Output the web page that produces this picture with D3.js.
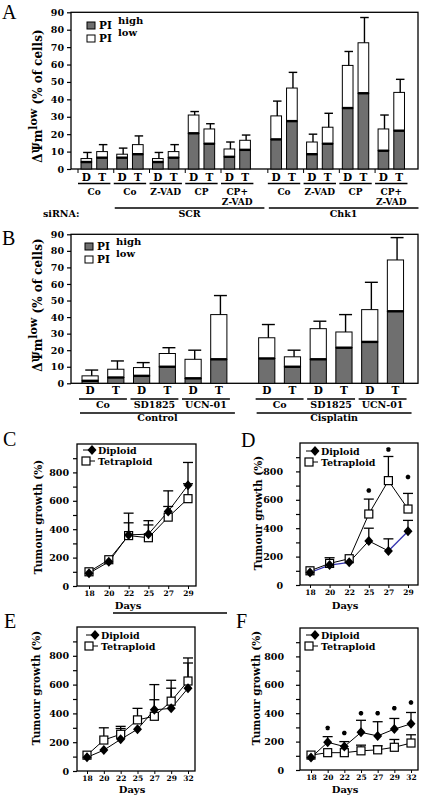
<!DOCTYPE html>
<html><head><meta charset="utf-8">
<script src="https://cdn.jsdelivr.net/npm/d3@7"></script>
<style>body{margin:0;background:#fff}</style>
</head><body><svg id="c" width="424" height="797"></svg>
<script>
// ---------- Panel A data (ΔΨm low, % of cells) ----------
const aGroups = ["Co","Co","Z-VAD","CP","CP+\nZ-VAD","Co","Z-VAD","CP","CP+\nZ-VAD"];
const aHighD = [4, 6.5, 4, 20.5, 7, 17, 8.5, 35, 10.5];
const aLowD  = [2, 2, 2, 10.5, 4.5, 13.5, 7, 24.5, 12.5];
const aSdD   = [3.5, 3.5, 3.5, 2, 4, 8.5, 4.5, 8, 8];
const aHighT = [6.5, 8.5, 6.5, 14.5, 11, 27.5, 14.5, 43.5, 22];
const aLowT  = [3.5, 5.5, 3.5, 8.5, 5.5, 19, 9.5, 29, 22];
const aSdT   = [4, 5, 4, 3, 3, 9, 8, 14.5, 7.5];
const aSets  = [{label:"SCR", from:1, to:4}, {label:"Chk1", from:5, to:8}];

// ---------- Panel B data ----------
const bGroups = ["Co","SD1825","UCN-01","Co","SD1825","UCN-01"];
const bHighD = [1.5, 4.5, 3, 15, 14.5, 25];
const bLowD  = [3, 5, 11.5, 12.5, 18.5, 19.5];
const bSdD   = [3.5, 3, 5.5, 8, 4.5, 16.5];
const bHighT = [3.5, 10, 14.5, 10, 21.5, 43.5];
const bLowT  = [5, 8, 27, 6, 9.5, 31];
const bSdT   = [5, 3.5, 11.5, 4, 10.5, 13.5];
const bSets  = [{label:"Control", from:0, to:2}, {label:"Cisplatin", from:3, to:5}];
const barTicks = [0,10,20,30,40,50,60,70,80,90];

// ---------- Panels C–F data (tumour growth %) ----------
const days6 = [18, 20, 22, 25, 27, 29];
const days7 = [18, 20, 22, 25, 27, 29, 32];
const cDip = [90, 170, 360, 365, 525, 710];
const cDipSd = [0, 0, 85, 95, 145, 160];
const cTet = [100, 185, 355, 340, 485, 615];
const cTetSd = [0, 0, 158, 90, 75, 105];
const dDip = [88, 140, 160, 310, 240, 378];
const dDipSd = [0, 0, 0, 90, 85, 77];
const dTet = [100, 152, 185, 500, 735, 535];
const dTetSd = [0, 40, 0, 105, 170, 110];
const dStars = [null, null, null, 665, 955, 760];
const eDip = [95, 145, 220, 290, 425, 435, 575];
const eDipSd = [0, 0, 75, 0, 175, 140, 175];
const eTet = [110, 215, 255, 355, 380, 485, 625];
const eTetSd = [0, 85, 55, 80, 115, 145, 160];
const fDip = [88, 195, 165, 265, 240, 288, 325];
const fDipSd = [0, 40, 35, 85, 100, 75, 80];
const fTet = [105, 122, 122, 135, 142, 160, 190];
const fTetSd = [0, 0, 0, 40, 28, 55, 58];
const fStars = [null, 295, 260, 400, 400, 435, 475];
const growthTicks = [0,100,200,300,400,500,600,700,800,900];

const FONT = "'DejaVu Serif', serif";
const svg = d3.select("#c");
svg.append("rect").attr("width",424).attr("height",797).attr("fill","#fff");

function text(g, x, y, s, size, anchor) {
  return g.append("text").attr("x", x).attr("y", y).text(s)
    .attr("font-family", FONT).attr("font-weight","bold").attr("font-size", size)
    .attr("text-anchor", anchor || "middle").attr("fill","#000");
}
function letter(s, x, y) {
  svg.append("text").attr("x", x).attr("y", y).text(s)
    .attr("font-family","'Liberation Serif', serif").attr("font-size", 20).attr("fill","#000");
}
function line(g, x1, y1, x2, y2, w) {
  g.append("line").attr("x1",x1).attr("y1",y1).attr("x2",x2).attr("y2",y2)
    .attr("stroke","#000").attr("stroke-width", w || 1);
}

// ---------------- bar panels ----------------
function barPanel(o) {
  const g = svg.append("g");
  const y = d3.scaleLinear().domain([0, 90]).range([o.bottom, o.top]);
  const slot = i => i + (i >= o.splitAt ? o.gap : 0);
  const xp = d3.scaleLinear().domain([0, 1]).range([o.firstLeft, o.firstLeft + o.pairStep]);
  const inner = d3.scaleBand().domain(["D","T"]).range([0, o.pairW]).paddingInner(o.innerPad).paddingOuter(0);
  const bw = inner.bandwidth();
  const pairL = i => xp(slot(i));
  const pairR = i => xp(slot(i)) + o.pairW;

  g.append("rect").attr("x", o.left).attr("y", o.top).attr("width", o.right - o.left)
    .attr("height", o.bottom - o.top).attr("fill","none").attr("stroke","#000").attr("stroke-width",1.3);

  const ya = g.append("g").attr("transform", `translate(${o.left},0)`)
    .call(d3.axisLeft(y).tickValues(barTicks).tickSize(4).tickPadding(3));
  ya.select(".domain").remove();
  ya.attr("font-family", FONT).attr("font-weight","bold").attr("font-size", 9.5);
  ya.selectAll("line").attr("stroke-width",1.2);

  const rows = [];
  o.groups.forEach((gn, i) => ["D","T"].forEach(k => rows.push({
    i, k, high: o.high[k][i], low: o.low[k][i], sd: o.sd[k][i], x: pairL(i) + inner(k)
  })));

  rows.forEach(d => {
    const tot = d.high + d.low;
    g.append("rect").attr("x", d.x).attr("y", y(tot)).attr("width", bw).attr("height", y(d.high) - y(tot))
      .attr("fill","#fff").attr("stroke","#000").attr("stroke-width",1);
    g.append("rect").attr("x", d.x).attr("y", y(d.high)).attr("width", bw).attr("height", y(0) - y(d.high))
      .attr("fill","#6f6f6f").attr("stroke","#000").attr("stroke-width",1);
    line(g, d.x, y(d.high), d.x + bw, y(d.high), 2.4);
    const ex = d.x + bw * 0.6;
    line(g, ex, y(tot), ex, y(tot + d.sd), 1.4);
    line(g, ex - bw * 0.4, y(tot + d.sd), ex + bw * 0.4, y(tot + d.sd), 1.4);
    text(g, d.x + bw / 2, o.dtY, d.k, 10.5);
  });

  o.groups.forEach((gn, i) => {
    line(g, pairL(i) - 3, o.ulY, pairR(i) + 3, o.ulY, 1.3);
    if (o.tickMarks) line(g, pairL(i) - 3, o.bottom, pairL(i) - 3, o.bottom + 4, 1);
    gn.split("\n").forEach((s, j) => text(g, (pairL(i) + pairR(i)) / 2, o.grpY + j * o.lineGap, s, o.grpSize));
  });

  o.sets.forEach(s => {
    const x1 = pairL(s.from) + o.setPad[0], x2 = pairR(s.to) + o.setPad[1];
    line(g, x1, o.setLineY, x2, o.setLineY, 1.3);
    text(g, (x1 + x2) / 2, o.setTextY, s.label, 9.5);
  });

  // legend
  const L = o.legend;
  g.append("rect").attr("x", L.x).attr("y", L.y).attr("width", 8).attr("height", 7)
    .attr("fill","#6f6f6f").attr("stroke","#000");
  g.append("rect").attr("x", L.x).attr("y", L.y + 13).attr("width", 8).attr("height", 7)
    .attr("fill","#fff").attr("stroke","#000");
  text(g, L.x + 12, L.y + 7, "PI", 10.5, "start");
  text(g, L.x + 12, L.y + 20, "PI", 10.5, "start");
  text(g, L.x + 31, L.y + 2, "high", 10, "start");
  text(g, L.x + 31, L.y + 14, "low", 10, "start");

  // y title
  const t = g.append("text").attr("transform", `translate(${o.titleX},${o.titleY}) rotate(-90)`)
    .attr("text-anchor","middle").attr("font-family", FONT).attr("font-weight","bold").attr("font-size", 12);
  t.append("tspan").text("ΔΨm");
  t.append("tspan").attr("dy", -5).attr("font-size", 11).text("low");
  t.append("tspan").attr("dy", 5).text(" (% of cells)");
}

barPanel({
  groups: aGroups, high: {D: aHighD, T: aHighT}, low: {D: aLowD, T: aLowT}, sd: {D: aSdD, T: aSdT},
  left: 71, right: 418, top: 12.3, bottom: 169,
  firstLeft: 81, pairStep: 35.75, splitAt: 5, gap: 0.31, pairW: 26.4, innerPad: 0.32,
  dtY: 181, ulY: 183.5, grpY: 194.5, lineGap: 10, grpSize: 9, tickMarks: true,
  sets: aSets, setPad: [-2, 14], setLineY: 208, setTextY: 216.5,
  legend: {x: 87, y: 22}, titleX: 42, titleY: 96
});
text(svg, 43, 216.5, "siRNA:", 9.5, "start");

barPanel({
  groups: bGroups, high: {D: bHighD, T: bHighT}, low: {D: bLowD, T: bLowT}, sd: {D: bSdD, T: bSdT},
  left: 71, right: 418, top: 234.3, bottom: 383.3,
  firstLeft: 82, pairStep: 51.5, splitAt: 3, gap: 0.43, pairW: 41.9, innerPad: 0.37,
  dtY: 394, ulY: 399, grpY: 408, lineGap: 10, grpSize: 9.5, tickMarks: false,
  sets: bSets, setPad: [-2, 8], setLineY: 413, setTextY: 421,
  legend: {x: 85, y: 243}, titleX: 42, titleY: 305
});

letter("A", 2, 19);
letter("B", 2, 245);

// ---------------- line panels ----------------
const diamond = "M0,-5L4.5,0L0,5L-4.5,0Z";
function linePanel(o) {
  const g = svg.append("g");
  const x = d3.scalePoint().domain(o.days).range([o.px0, o.px1]);
  const y = d3.scaleLinear().domain([0, 1000]).range([o.bottom, o.top]);
  g.append("rect").attr("x", o.left).attr("y", o.top).attr("width", o.right - o.left)
    .attr("height", o.bottom - o.top).attr("fill","none").attr("stroke","#000").attr("stroke-width",1.3);

  const ya = g.append("g").attr("transform", `translate(${o.left},0)`)
    .call(d3.axisLeft(y).tickValues(growthTicks).tickSize(4).tickPadding(o.labPad)
      .tickFormat(d => d % 200 === 0 ? d : ""));
  ya.select(".domain").remove();
  ya.attr("font-family", FONT).attr("font-weight","bold").attr("font-size", 9.5);
  ya.selectAll("line").attr("stroke-width",1.2);

  const xa = g.append("g").attr("transform", `translate(0,${o.bottom})`)
    .call(d3.axisBottom(x).tickSize(3).tickPadding(2));
  xa.select(".domain").remove();
  xa.attr("font-family", FONT).attr("font-weight","bold").attr("font-size", 7.5);

  const mk = (vals) => vals.map((v, i) => ({day: o.days[i], v}));
  const dip = mk(o.dip), tet = mk(o.tet);
  const ln = d3.line().x(d => x(d.day)).y(d => y(d.v));

  // error bars
  [[tet, o.tetSd], [dip, o.dipSd]].forEach(([pts, sd]) => pts.forEach((d, i) => {
    if (!sd[i]) return;
    line(g, x(d.day), y(d.v), x(d.day), y(d.v + sd[i]), 1.3);
    line(g, x(d.day) - 5, y(d.v + sd[i]), x(d.day) + 5, y(d.v + sd[i]), 1.3);
  }));

  g.append("path").attr("d", ln(tet)).attr("fill","none").attr("stroke","#000").attr("stroke-width",1);
  dip.slice(1).forEach((d, i) => {
    const blue = o.blue && o.blue.includes(i);
    g.append("path").attr("d", ln([dip[i], d])).attr("fill","none")
      .attr("stroke", blue ? "#3333b0" : "#000").attr("stroke-width", blue ? 1.3 : 1);
  });

  tet.forEach(d => g.append("rect").attr("x", x(d.day) - 4).attr("y", y(d.v) - 4)
    .attr("width", 8).attr("height", 8).attr("fill","#fff").attr("stroke","#000").attr("stroke-width",1.2));
  dip.forEach(d => g.append("path").attr("d", diamond)
    .attr("transform", `translate(${x(d.day)},${y(d.v)})`).attr("fill","#000"));

  if (o.stars) o.stars.forEach((v, i) => {
    if (v == null) return;
    g.append("path").attr("d", d3.symbol(d3.symbolAsterisk, 14)())
      .attr("transform", `translate(${x(o.days[i])},${y(v)})`)
      .attr("fill","none").attr("stroke","#000").attr("stroke-width",2);
  });

  // legend
  const lx = o.leg[0], ly = o.leg[1];
  line(g, lx, ly, lx + 12, ly, 1);
  g.append("path").attr("d", diamond).attr("transform", `translate(${lx + 9},${ly})`).attr("fill","#000");
  text(g, lx + 15, ly + 3.5, "Diploid", 9.5, "start");
  line(g, lx + 3, ly + 11, lx + 12, ly + 11, 1);
  g.append("rect").attr("x", lx - 1).attr("y", ly + 7).attr("width", 8).attr("height", 8)
    .attr("fill","#fff").attr("stroke","#000").attr("stroke-width",1.2);
  text(g, lx + 15, ly + 14.5, "Tetraploid", 9.5, "start");

  g.append("text").attr("transform", `translate(${o.title[0]},${o.title[1]}) rotate(-90)`)
    .attr("text-anchor","middle").attr("font-family", FONT).attr("font-weight","bold")
    .attr("font-size", 10.5).text("Tumour growth (%)");
  if (o.daysLabel) text(g, o.daysLabel[0], o.daysLabel[1], "Days", 10);
}

linePanel({days: days6, dip: cDip, dipSd: cDipSd, tet: cTet, tetSd: cTetSd,
  left: 77, right: 196, top: 444, bottom: 586, px0: 89, px1: 188, labPad: 4,
  leg: [83, 450], title: [42, 517], daysLabel: [128, 609]});
linePanel({days: days6, dip: dDip, dipSd: dDipSd, tet: dTet, tetSd: dTetSd, stars: dStars, blue: [0, 1, 4],
  left: 300, right: 418, top: 443, bottom: 585, px0: 310, px1: 408, labPad: 13,
  leg: [306, 451], title: [262, 513], daysLabel: [345, 609]});
line(svg, 113, 613, 227, 613, 1.3);
linePanel({days: days7, dip: eDip, dipSd: eDipSd, tet: eTet, tetSd: eTetSd,
  left: 77, right: 195, top: 627, bottom: 771, px0: 87, px1: 188, labPad: 4,
  leg: [86, 635], title: [40, 688], daysLabel: [132, 793]});
linePanel({days: days7, dip: fDip, dipSd: fDipSd, tet: fTet, tetSd: fTetSd, stars: fStars,
  left: 300, right: 418, top: 628, bottom: 770, px0: 311, px1: 411, labPad: 12,
  leg: [306, 635], title: [260, 688], daysLabel: [345, 793]});

letter("C", 3, 446);
letter("D", 241, 447);
letter("E", 4, 628);
letter("F", 236, 628);
</script></body></html>
